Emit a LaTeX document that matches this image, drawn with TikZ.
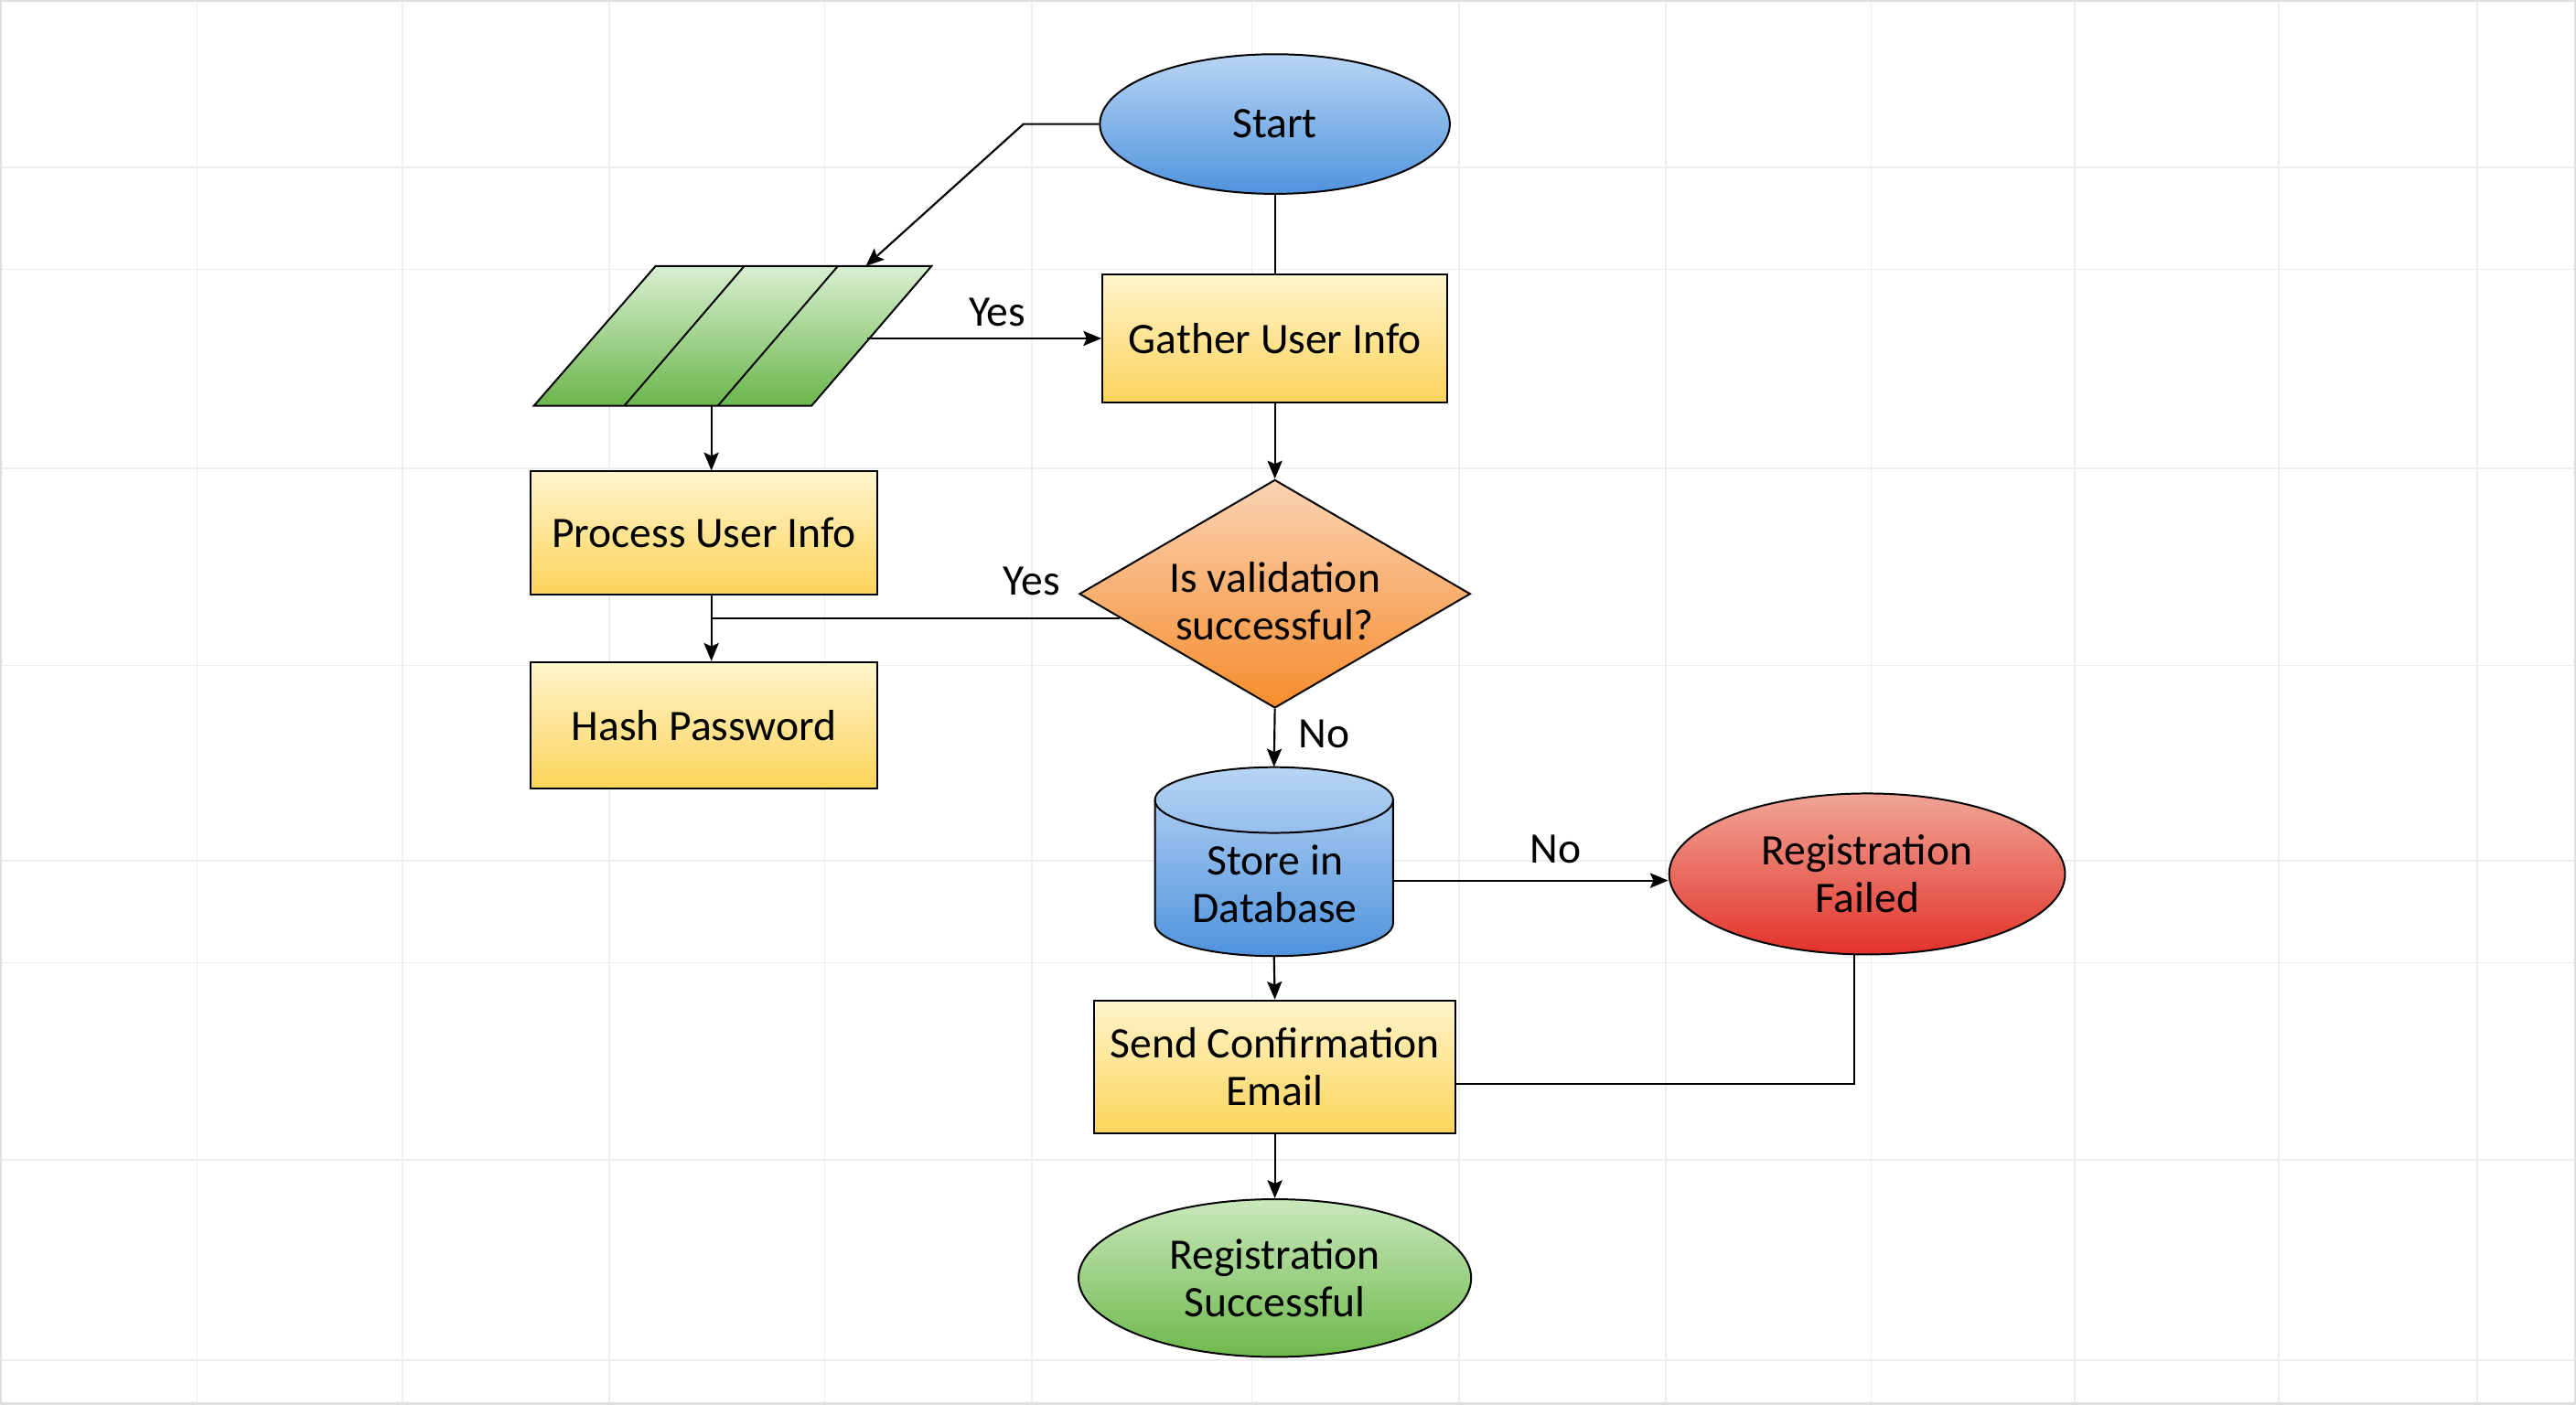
\documentclass[tikz,border=0pt]{standalone}
\usepackage{fontspec}
\setmainfont{Carlito}
\usetikzlibrary{shapes.geometric,arrows.meta,calc}
\newcommand\diafont{\fontsize{26.5}{29}\selectfont}
\definecolor{ylwT}{HTML}{FFF4CC}
\definecolor{ylwB}{HTML}{FCD45A}
\definecolor{bluT}{HTML}{B8D5F4}
\definecolor{bluB}{HTML}{4F93DD}
\definecolor{grnT}{HTML}{D8EFD0}
\definecolor{grnB}{HTML}{6AB64C}
\definecolor{orgT}{HTML}{FBD3B3}
\definecolor{orgB}{HTML}{F58C2C}
\definecolor{redT}{HTML}{F0A596}
\definecolor{redB}{HTML}{E2322A}
\definecolor{sucT}{HTML}{C9E8BC}
\definecolor{sucB}{HTML}{6DB84B}
\definecolor{gridc}{HTML}{EDEDED}
\begin{document}
\begin{tikzpicture}[x=1pt,y=-1pt,
  gridline/.style={draw=gridc, line width=0.9pt},
  shapebase/.style={draw=black, line width=1.1pt, inner sep=0pt, align=center, font=\diafont},
  box/.style={shapebase, rectangle, top color=ylwT, bottom color=ylwB},
  oval/.style={shapebase, ellipse},
  conn/.style={draw=black, line width=1.2pt},
  arr/.style={conn, -{Stealth[length=11pt,width=9pt,inset=2pt]}},
  lbl/.style={font=\diafont, inner sep=0pt}]
\useasboundingbox (0,0) rectangle (1568,855);
\fill[white] (0,0) rectangle (1568,855);
% grid
\foreach \gx in {120,245,371,502,628,762,888,1014,1139,1263,1387,1508}
  \draw[gridline] (\gx,0) -- (\gx,855);
\foreach \gy in {102,164,285,405,524,586,706,828}
  \draw[gridline] (0,\gy) -- (1568,\gy);
\draw[gray!25, line width=2.5pt] (0,0) rectangle (1568,855);

% nodes
\node[oval, top color=bluT, bottom color=bluB, minimum width=213pt, minimum height=85pt] (start) at (776,75.5) {Start};
\node[box, minimum width=210pt, minimum height=78pt] (gather) at (776,206) {Gather User Info};
\node[box, minimum width=211pt, minimum height=75pt] (proc) at (428.5,324.5) {Process User Info};
\node[box, minimum width=211pt, minimum height=77pt] (hash) at (428.5,441.5) {Hash Password};
\node[shapebase, diamond, aspect=1.7, top color=orgT, bottom color=orgB, minimum width=238pt, minimum height=139pt] (dec) at (776,361.5) {};
\node[lbl, align=center] (dectext) at (776,366) {Is validation\\successful?};
\node[box, minimum width=220pt, minimum height=81pt] (send) at (776,649.5) {Send Confirmation\\Email};
\node[oval, top color=redT, bottom color=redB, minimum width=241pt, minimum height=98pt] (fail) at (1136.5,532) {Registration\\Failed};
\node[oval, top color=sucT, bottom color=sucB, minimum width=239pt, minimum height=96pt] (succ) at (776,778) {Registration\\Successful};

% parallelogram (data)
\path[top color=grnT, bottom color=grnB] (399,162) -- (567,162) -- (494,247) -- (325,247) -- cycle;
\draw[line width=1.1pt, line join=miter] (399,162) -- (567,162) -- (494,247) -- (325,247) -- cycle;
\draw[line width=1.1pt] (453,162) -- (380,247);
\draw[line width=1.1pt] (510,162) -- (437,247);
\node[inner sep=0pt, minimum width=242pt, minimum height=85pt] (para) at (446,204.5) {};
\coordinate (paraIn) at (527,162);
\coordinate (paraOut) at (528,206);
\coordinate (paraBot) at (433,247);

% database cylinder
\path[top color=bluT, bottom color=bluB] (703,487) -- (703,562) arc[start angle=180, end angle=360, x radius=72.5pt, y radius=20pt] -- (848,487) arc[start angle=0, end angle=180, x radius=72.5pt, y radius=20pt] -- cycle;
\draw[line width=1.1pt] (703,487) -- (703,562) arc[start angle=180, end angle=360, x radius=72.5pt, y radius=20pt] -- (848,487) arc[start angle=0, end angle=180, x radius=72.5pt, y radius=20pt] -- cycle;
\draw[line width=1.1pt] (703,487) arc[start angle=180, end angle=360, x radius=72.5pt, y radius=20pt];
\node[inner sep=0pt, minimum width=145pt, minimum height=115pt] (db) at (775.5,524.5) {};
\node[lbl, align=center] (dbtext) at (776,538) {Store in\\Database};
\coordinate (dbOut) at (848,536);

% connectors
\coordinate (bend) at (623,75.5);
\draw[arr] (start.west) -- (bend) -- (paraIn);
\draw[conn] (start.south) -- (gather.north);
\draw[arr] (paraOut) -- (gather.west);
\node[lbl] (yes1) at (607,190) {Yes};
\draw[arr] (gather.south) -- (dec.north);
\coordinate (decYes) at ($(dec.west)!0.21!(dec.south)$);
\draw[conn] (decYes) -- (decYes -| paraBot);
\node[lbl] (yes2) at (628,354) {Yes};
\draw[arr] (paraBot) -- (paraBot |- proc.north);
\draw[arr] (paraBot |- proc.south) -- (paraBot |- hash.north);
\draw[arr] (dec.south) -- (db.north);
\node[lbl] (no1) at (806,447) {No};
\draw[arr] (dbOut) -- (dbOut -| fail.west);
\node[lbl] (no2) at (947,517) {No};
\draw[conn] ([xshift=-8pt]fail.south) |- ([yshift=-10.5pt]send.east);
\draw[arr] (db.south) -- (send.north);
\draw[arr] (send.south) -- (succ.north);
\end{tikzpicture}
\end{document}
